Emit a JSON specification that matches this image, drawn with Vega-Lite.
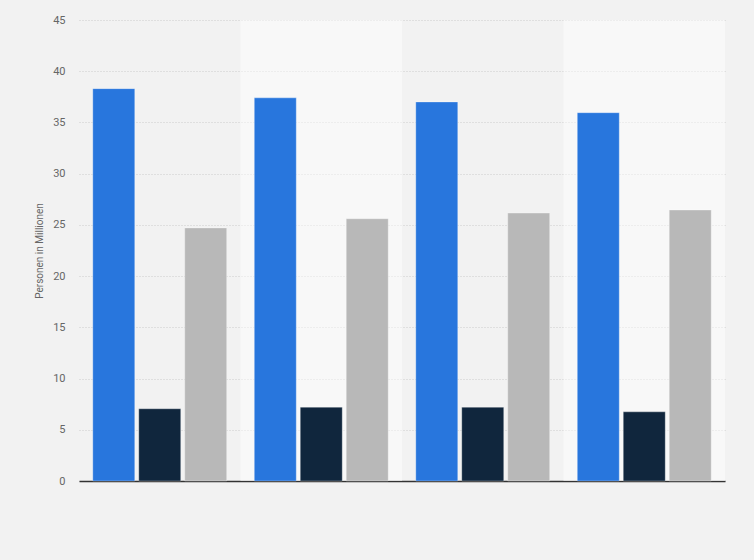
{
  "$schema": "https://vega.github.io/schema/vega-lite/v6.json",
  "width": 646,
  "height": 461,
  "autosize": "none",
  "padding": {"left": 79, "top": 20, "right": 29, "bottom": 79},
  "background": "#f2f2f2",
  "config": {"view": {"stroke": null}, "font": "Roboto"},
  "datasets": {
    "gruppen": [
      {"gruppe": "Gruppe 1"},
      {"gruppe": "Gruppe 2"},
      {"gruppe": "Gruppe 3"},
      {"gruppe": "Gruppe 4"}
    ],
    "werte": [
      {"gruppe": "Gruppe 1", "serie": "A", "wert": 38.3},
      {"gruppe": "Gruppe 1", "serie": "B", "wert": 7.05},
      {"gruppe": "Gruppe 1", "serie": "C", "wert": 24.7},
      {"gruppe": "Gruppe 2", "serie": "A", "wert": 37.4},
      {"gruppe": "Gruppe 2", "serie": "B", "wert": 7.2},
      {"gruppe": "Gruppe 2", "serie": "C", "wert": 25.6},
      {"gruppe": "Gruppe 3", "serie": "A", "wert": 37.0},
      {"gruppe": "Gruppe 3", "serie": "B", "wert": 7.2},
      {"gruppe": "Gruppe 3", "serie": "C", "wert": 26.15},
      {"gruppe": "Gruppe 4", "serie": "A", "wert": 35.95},
      {"gruppe": "Gruppe 4", "serie": "B", "wert": 6.75},
      {"gruppe": "Gruppe 4", "serie": "C", "wert": 26.45}
    ]
  },
  "layer": [
    {
      "data": {"name": "gruppen"},
      "mark": {"type": "bar", "fill": "#ffffff"},
      "encoding": {
        "x": {
          "field": "gruppe",
          "type": "nominal",
          "sort": null,
          "scale": {"paddingInner": 0, "paddingOuter": 0},
          "axis": {
            "title": null,
            "labels": false,
            "ticks": false,
            "domain": true,
            "domainColor": "#333333",
            "domainWidth": 1.5,
            "grid": false
          }
        },
        "fillOpacity": {
          "condition": {"test": "datum.gruppe === 'Gruppe 2' || datum.gruppe === 'Gruppe 4'", "value": 0.45},
          "value": 0
        }
      }
    },
    {
      "data": {"name": "werte"},
      "mark": {"type": "bar", "stroke": "#ffffff", "strokeOpacity": 0.3, "strokeWidth": 1},
      "encoding": {
        "x": {
          "field": "gruppe",
          "type": "nominal",
          "sort": null,
          "scale": {"paddingInner": 0, "paddingOuter": 0},
          "axis": {
            "title": null,
            "labels": false,
            "ticks": false,
            "domain": true,
            "domainColor": "#333333",
            "domainWidth": 1.5,
            "grid": false
          }
        },
        "xOffset": {
          "field": "serie",
          "type": "nominal",
          "scale": {"domain": ["A", "B", "C"], "paddingInner": 0.087, "paddingOuter": 0.3}
        },
        "y": {
          "field": "wert",
          "type": "quantitative",
          "scale": {"domain": [0, 45], "nice": false},
          "axis": {
            "title": "Personen in Millionen",
            "titleFontSize": 10,
            "titleFontWeight": "normal",
            "titleColor": "#666666",
            "titlePadding": 8,
            "values": [0, 5, 10, 15, 20, 25, 30, 35, 40, 45],
            "labelFontSize": 11,
            "labelColor": "#666666",
            "labelPadding": 14,
            "ticks": false,
            "domain": false,
            "grid": true,
            "gridColor": "#cccccc",
            "gridDash": [1, 2],
            "gridWidth": 1
          }
        },
        "color": {
          "field": "serie",
          "type": "nominal",
          "scale": {"domain": ["A", "B", "C"], "range": ["#2876dd", "#10263d", "#b8b8b8"]},
          "legend": null
        }
      }
    }
  ]
}
